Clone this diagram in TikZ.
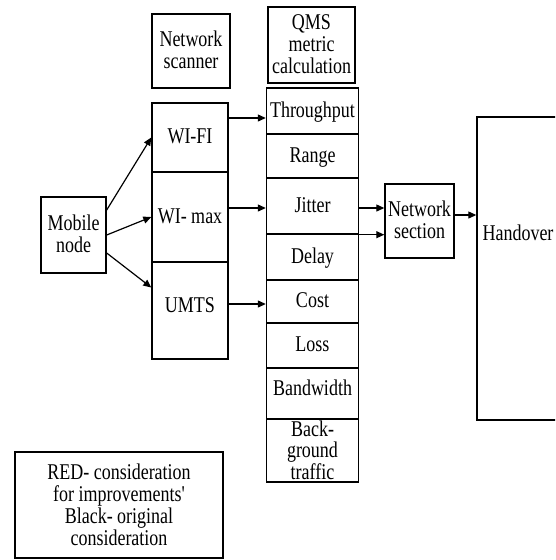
\documentclass[tikz,border=0pt]{standalone}
\usepackage{fontspec}
\usepackage{graphicx}
\setmainfont{Liberation Serif}
\usetikzlibrary{arrows.meta}
% tall text: lines stacked in a tabular, stretched vertically, set a little low
\newcommand\tallt[2][17.3]{\raisebox{-2pt}[\height][\depth]{\scalebox{1}[1.25]{\fontsize{18}{#1}\selectfont
  \begin{tabular}{@{}c@{}}#2\end{tabular}}}}
\begin{document}
\begin{tikzpicture}[x=1pt,y=-1pt,
  box/.style={draw,line width=1.4pt,inner sep=0pt,align=center},
  arr/.style={line width=1.2pt,-{Triangle[length=8pt,width=7pt]}}]
\useasboundingbox (0,0) rectangle (555,560);
\clip (0,0) rectangle (555,560);
% header boxes
\node[box,minimum width=78,minimum height=74] (scan) at (191,51) {\tallt{Network\\scanner}};
\node[box,minimum width=87,minimum height=76] (qms) at (311.5,45) {\tallt{QMS\\metric\\calculation}};
% mobile node
\node[box,minimum width=65,minimum height=76] (mob) at (73.5,235) {\tallt{Mobile\\node}};
% access networks
\node[box,minimum width=76,minimum height=69] (wifi) at (190,137.5) {\tallt{WI-FI}};
\node[box,minimum width=76,minimum height=90] (wimax) at (190,217) {\tallt{WI- max}};
\node[box,minimum width=76,minimum height=97] (umts) at (190,310.5) {};
\node (umtstxt) at (190,306) {\tallt{UMTS}};
% metric stack
\node[box,minimum width=92,minimum height=46] (thr) at (312.5,111) {\tallt{Throughput}};
\node[box,minimum width=92,minimum height=44] (rng) at (312.5,156) {\tallt{Range}};
\node[box,minimum width=92,minimum height=56] (jit) at (312.5,206) {\tallt{Jitter}};
\node[box,minimum width=92,minimum height=46] (del) at (312.5,257) {\tallt{Delay}};
\node[box,minimum width=92,minimum height=43] (cost) at (312.5,301.5) {\tallt{Cost}};
\node[box,minimum width=92,minimum height=45] (loss) at (312.5,345.5) {\tallt{Loss}};
\node[box,minimum width=92,minimum height=51] (bw) at (312.5,393.5) {};
\node (bwtxt) at (312.5,389) {\tallt{Bandwidth}};
\node[box,minimum width=92,minimum height=63] (bg) at (312.5,450.5) {};
\node (bgtxt) at (312.5,451) {\tallt[14.8]{Back-\\ground\\traffic}};
% network section and handover
\node[box,minimum width=69,minimum height=74] (ns) at (419.5,221) {\tallt{Network\\section}};
\node[box,minimum width=83,minimum height=303] (hand) at (518.5,268.5) {};
\node (handtxt) at (518,234) {\tallt{Handover}};
% legend
\node[box,minimum width=208,minimum height=106] (leg) at (119,505) {};
\node (legtxt) at (119,506) {\tallt{RED- consideration\\for improvements\textquotesingle\\Black- original\\consideration}};
% connectors
\draw[arr] ([yshift=25pt]mob.east) -- (wifi.west);
\draw[arr] (mob.east) -- (wimax.west);
\draw[arr] ([yshift=-18pt]mob.east) -- ([yshift=23pt]umts.west);
\path ([yshift=19.5pt]wifi.east) coordinate (c1);
\draw[arr] (c1) -- (c1 -| thr.west);
\path ([yshift=9pt]wimax.east) coordinate (c2);
\draw[arr] (c2) -- (c2 -| jit.west);
\path ([yshift=6.5pt]umts.east) coordinate (c3);
\draw[arr] (c3) -- (c3 -| cost.west);
\path ([yshift=-2pt]jit.east) coordinate (c4);
\draw[arr] (c4) -- (c4 -| ns.west);
\draw[arr] (jit.south west) -- (jit.south west -| ns.west);
\path ([yshift=6pt]ns.east) coordinate (c5);
\draw[arr] (c5) -- (c5 -| hand.west);
\end{tikzpicture}
\end{document}
